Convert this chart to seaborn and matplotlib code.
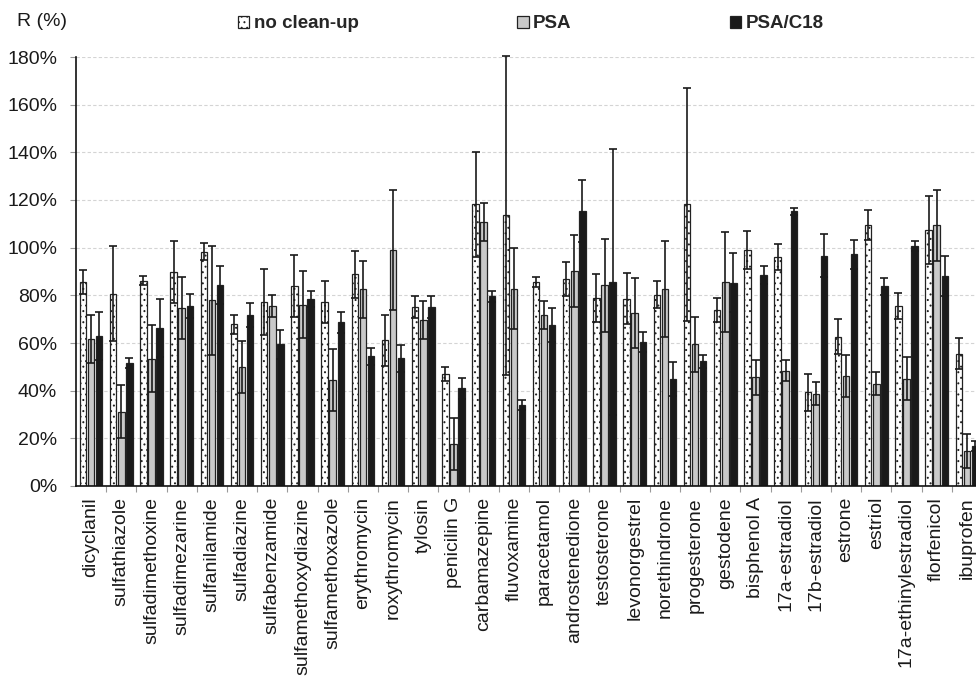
import numpy as np
import pandas as pd
import matplotlib
matplotlib.use("Agg")
import matplotlib.pyplot as plt
from matplotlib.patches import Patch
from matplotlib.ticker import FixedLocator
import seaborn as sns

categories = ["dicyclanil", "sulfathiazole", "sulfadimethoxine", "sulfadimezarine",
              "sulfanilamide", "sulfadiazine", "sulfabenzamide", "sulfamethoxydiazine",
              "sulfamethoxazole", "erythromycin", "roxythromycin", "tylosin", "penicilin G",
              "carbamazepine", "fluvoxamine", "paracetamol", "androstenedione", "testosterone",
              "levonorgestrel", "norethindrone", "progesterone", "gestodene", "bisphenol A",
              "17a-estradiol", "17b-estradiol", "estrone", "estriol", "17a-ethinylestradiol",
              "florfenicol", "ibuprofen"]
series_names = ["no clean-up", "PSA", "PSA/C18"]

ncu = [85.5, 80.7, 86.2, 89.8, 98.3, 67.8, 77.2, 83.8, 77.2, 88.8, 61.1, 75.0, 47.0, 118.2, 113.6,
       85.7, 86.9, 78.9, 78.6, 80.3, 118.2, 74.0, 99.0, 96.0, 39.3, 62.7, 109.5, 75.5, 107.4, 55.5]
ncu_err = [5, 20, 2, 13, 3.5, 4, 14, 13, 9, 10, 10.6, 4.7, 3, 22, 67, 2, 7, 10, 10.6, 5.7, 49, 5,
           8, 5.4, 7.8, 7.5, 6.2, 5.4, 14.3, 6.6]
psa = [61.7, 31.2, 53.4, 74.8, 77.9, 49.9, 75.5, 76.1, 44.3, 82.5, 99.0, 69.5, 17.6, 110.8, 82.8,
       71.8, 90.3, 84.2, 72.5, 82.7, 59.5, 85.7, 45.6, 48.4, 38.7, 46.3, 42.9, 45.0, 109.4, 14.8]
psa_err = [10, 11, 14, 13, 23, 11, 4.5, 14, 13, 12, 25, 8, 11, 8, 17, 6, 15, 19.6, 14.6, 20, 11.5,
           21, 7.3, 4.3, 4.8, 8.8, 4.8, 9.1, 14.8, 7.1]
c18 = [62.8, 51.5, 66.3, 75.4, 84.5, 71.6, 59.4, 78.5, 68.7, 54.4, 53.6, 75.0, 41.0, 79.6, 33.9,
       67.6, 115.4, 85.6, 60.4, 44.9, 52.3, 85.3, 88.5, 115.3, 96.6, 97.2, 83.8, 100.7, 88.1, 16.8]
c18_err = [10, 2, 12, 5, 8, 5, 6, 3.5, 4.3, 3.6, 5.6, 4.7, 4.4, 2.4, 2, 7, 13, 56, 4.2, 7.1, 2.7,
           12.5, 3.8, 1.5, 9, 6, 3.5, 2.1, 8.4, 2.2]
y_ticks = [0, 20, 40, 60, 80, 100, 120, 140, 160, 180]
y_tick_labels = ["0%", "20%", "40%", "60%", "80%", "100%", "120%", "140%", "160%", "180%"]

values = [ncu, psa, c18]
errors = [ncu_err, psa_err, c18_err]

df = pd.DataFrame({
    "compound": np.tile(categories, 3),
    "method": np.repeat(series_names, len(categories)),
    "R": np.concatenate(values),
})

sns.set_theme(style="white")
plt.rcParams["font.family"] = ["Liberation Sans", "DejaVu Sans"]
plt.rcParams["hatch.linewidth"] = 0.7
plt.rcParams["hatch.color"] = "#333333"

fig = plt.figure(figsize=(9.76, 6.76), dpi=100)
ax = fig.add_axes([76 / 976, 190 / 676, 900 / 976, 429 / 676])

colors = {"no clean-up": "#ffffff", "PSA": "#c9c9c9", "PSA/C18": "#1a1a1a"}
sns.barplot(data=df, x="compound", y="R", hue="method", hue_order=series_names,
            order=categories, palette=colors, width=0.8, gap=0.2, errorbar=None,
            edgecolor="#222222", linewidth=0.9, saturation=1, ax=ax, legend=False)

for patch in ax.containers[0]:
    patch.set_hatch("...")

for cont, err in zip(ax.containers, errors):
    xs = [p.get_x() + p.get_width() / 2 for p in cont]
    hs = [p.get_height() for p in cont]
    ax.errorbar(xs, hs, yerr=err, fmt="none", ecolor="#1a1a1a", elinewidth=1.2,
                capsize=2.8, capthick=1.2, zorder=5, clip_on=False)

ax.set_ylim(0, 180)
ax.set_xlim(-0.5, -0.5 + 900 / 30.2)
ax.set_yticks(y_ticks)
ax.set_yticklabels(y_tick_labels, fontsize=14)
ax.set_xlabel("")
ax.set_ylabel("")
ax.tick_params(axis="x", which="major", length=0, pad=8, labelsize=14, labelrotation=90)
ax.xaxis.set_minor_locator(FixedLocator(np.arange(0.5, len(categories), 1.0)))
ax.tick_params(axis="x", which="minor", bottom=True, length=4, width=0.8, color="#999999")
ax.tick_params(axis="y", which="major", left=True, length=4.5, width=0.8, color="#999999", pad=9)
for lab in ax.get_xticklabels():
    lab.set_color("#1a1a1a")
for lab in ax.get_yticklabels():
    lab.set_color("#1a1a1a")

ax.grid(axis="y", color="#d4d4d4", linestyle=(0, (3, 2)), linewidth=0.8)
ax.grid(axis="x", visible=False)
ax.set_axisbelow(True)
for side in ["top", "right"]:
    ax.spines[side].set_visible(False)
for side in ["left", "bottom"]:
    ax.spines[side].set_color("#111111")
    ax.spines[side].set_linewidth(1.2)

fig.text(42 / 976, 1 - 22 / 676, "R (%)", ha="center", va="center", fontsize=14, color="#1a1a1a")

handles = [Patch(facecolor="#ffffff", edgecolor="#222222", hatch="...", linewidth=0.9),
           Patch(facecolor="#c9c9c9", edgecolor="#222222", linewidth=0.9),
           Patch(facecolor="#1a1a1a", edgecolor="#222222", linewidth=0.9)]
fig.legend(handles, series_names, loc="center left", bbox_to_anchor=(238 / 976, 1 - 24 / 676),
           ncol=3, frameon=False, prop={"weight": "bold", "size": 13.5},
           handlelength=0.6, handleheight=0.6, handletextpad=0.25, columnspacing=8.45,
           borderpad=0, borderaxespad=0)

fig.savefig("out.png", dpi=100)
